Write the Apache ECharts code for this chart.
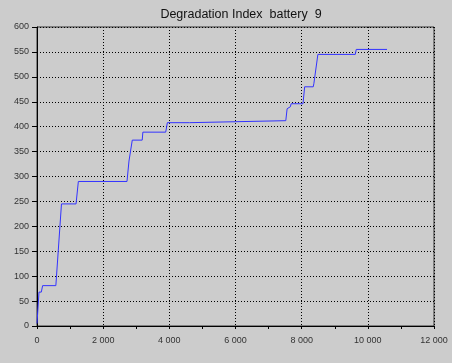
<!DOCTYPE html>
<html><head><meta charset="utf-8">
<script src="https://cdn.jsdelivr.net/npm/echarts@6/dist/echarts.min.js"></script>
<style>html,body{margin:0;padding:0;background:#cccccc;}#c{width:452px;height:363px;}</style>
</head><body><div id="c"></div>
<script>
const titleText = 'Degradation Index  battery  9';
const cycles = [0, 60, 130, 170, 570, 740, 1180, 1250, 2720, 2780, 2820, 2880, 3180, 3200, 3890, 3940, 4610, 4640, 7520, 7560, 7660, 7680, 8040, 8090, 8350, 8370, 8420, 8490, 9620, 9650, 10580];
const degradation = [5, 68, 68, 81, 81, 245, 245, 290, 290, 331, 333, 373, 373, 389, 389, 408, 408, 412, 412, 436, 440, 446, 446, 480, 480, 487, 487, 545, 545, 555, 555];
const xTicks = [0, 2000, 4000, 6000, 8000, 10000, 12000];
const yTicks = [0, 50, 100, 150, 200, 250, 300, 350, 400, 450, 500, 550, 600];

const fmt = v => { const s = String(v); return s.length > 3 ? s.slice(0, s.length - 3) + ' ' + s.slice(-3) : s; };
const chart = echarts.init(document.getElementById('c'));
chart.setOption({
  backgroundColor: '#cccccc',
  animation: false,
  title: { text: titleText, left: 236, top: 3, textAlign: 'center',
    textStyle: { fontFamily: 'Liberation Sans', fontSize: 12.5, fontWeight: 'normal', color: '#111' } },
  grid: { left: 37, right: 18, top: 27, bottom: 37, show: true, borderColor: '#333', borderWidth: 1, backgroundColor: 'transparent' },
  xAxis: { type: 'value', min: xTicks[0], max: xTicks[xTicks.length - 1], interval: 2000,
    axisLine: { lineStyle: { color: '#000', width: 1 } },
    axisTick: { length: 3, lineStyle: { color: '#000' } },
    minorTick: { show: true, splitNumber: 2, length: 3, lineStyle: { color: '#000' } },
    axisLabel: { formatter: fmt, fontFamily: 'Liberation Sans', fontSize: 9, color: '#333', margin: 10 },
    splitLine: { lineStyle: { color: '#000', type: [1, 2], width: 1 } } },
  yAxis: { type: 'value', min: yTicks[0], max: yTicks[yTicks.length - 1], interval: 50,
    axisLine: { show: true, lineStyle: { color: '#000', width: 1 } },
    axisTick: { show: true, length: 5, lineStyle: { color: '#000' } },
    axisLabel: { fontFamily: 'Liberation Sans', fontSize: 9, color: '#333', margin: 8 },
    splitLine: { lineStyle: { color: '#000', type: [1, 2], width: 1 } } },
  series: [{ type: 'line', data: cycles.map((x, i) => [x, degradation[i]]), showSymbol: false,
    lineStyle: { color: '#3333ff', width: 1 } }]
});
</script></body></html>
